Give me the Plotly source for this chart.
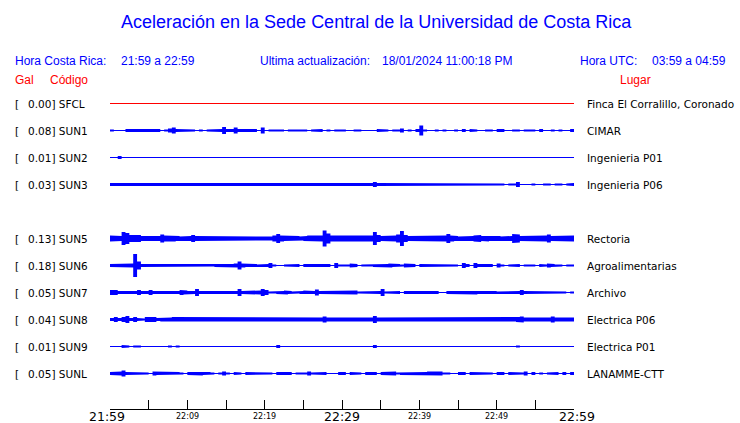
import plotly.graph_objects as go

# ---------------- data ----------------
TITLE = "Aceleración en la Sede Central de la Universidad de Costa Rica"
HORA_CR = "21:59 a 22:59"
HORA_UTC = "03:59 a 04:59"
ACTUALIZACION = "18/01/2024 11:00:18 PM"

codes = ["SFCL", "SUN1", "SUN2", "SUN3", "SUN5", "SUN6", "SUN7", "SUN8", "SUN9", "SUNL"]
places = ["Finca El Corralillo, Coronado", "CIMAR", "Ingenieria P01", "Ingenieria P06",
          "Rectoria", "Agroalimentarias", "Archivo", "Electrica P06", "Electrica P01",
          "LANAMME-CTT"]
gal = [0.00, 0.08, 0.01, 0.03, 0.13, 0.18, 0.05, 0.04, 0.01, 0.05]

# time axis (minutes after 21:59 local)
tick_minutes = [0, 5, 10, 15, 20, 25, 30, 35, 40, 45, 50, 55, 60]
label_minutes = [0, 10, 20, 30, 40, 50, 60]
label_text = ["21:59", "22:09", "22:19", "22:29", "22:39", "22:49", "22:59"]
label_major = [True, False, False, True, False, False, True]

BIN_MIN = 0.5  # each envelope value covers half a minute

# envelope half-heights, 120 bins of 30 s
env_sfcl = [0, 0, 0, 0, 0, 0, 0, 0, 0, 0, 0, 0, 0, 0, 0, 0, 0, 0, 0, 0,
            0, 0, 0, 0, 0, 0, 0, 0, 0, 0, 0, 0, 0, 0, 0, 0, 0, 0, 0, 0,
            0, 0, 0, 0, 0, 0, 0, 0, 0, 0, 0, 0, 0, 0, 0, 0, 0, 0, 0, 0,
            0, 0, 0, 0, 0, 0, 0, 0, 0, 0, 0, 0, 0, 0, 0, 0, 0, 0, 0, 0,
            0, 0, 0, 0, 0, 0, 0, 0, 0, 0, 0, 0, 0, 0, 0, 0, 0, 0, 0, 0,
            0, 0, 0, 0, 0, 0, 0, 0, 0, 0, 0, 0, 0, 0, 0, 0, 0, 0, 0, 0]
env_sun1 = [1, 0, 0, 0, 1.5, 1.5, 1, 1, 1, 1, 1.5, 1, 1.5, 0, 1, 2, 3, 1.5, 1.5, 1,
            1.5, 1, 0, 1, 0, 1, 1, 1, 1.5, 3.5, 1.5, 1.5, 3, 1.5, 1.5, 1.5, 1.5, 1.5, 0, 3,
            0, 1, 1, 1.5, 1, 0, 1, 1, 1, 1, 1, 0, 1, 1.5, 1.5, 0, 1, 0, 1, 1,
            1, 0, 0, 1, 1, 0, 0, 0, 0, 1.5, 1.5, 1, 0, 1, 1, 2, 0, 1, 0, 1.5,
            5, 1, 0, 0, 1, 0, 1, 0, 0, 1, 0, 1.5, 0, 1.5, 1, 0, 0, 1, 1, 0,
            1.5, 1.5, 0, 0, 1, 1, 0, 1, 1.5, 1, 0, 1.5, 0, 0, 1, 0, 1, 0, 0, 1.5]
env_sun2 = [0, 0, 1.5, 0, 0, 0, 0, 0, 0, 0, 0, 0, 0, 0, 0, 0, 0, 0, 0, 0,
            0, 0, 0, 0, 0, 0, 0, 0, 0, 0, 0, 0, 0, 0, 0, 0, 0, 0, 0, 0,
            0, 0, 0, 0, 0, 0, 0, 0, 0, 0, 0, 0, 0, 0, 0, 0, 0, 0, 0, 0,
            0, 0, 0, 0, 0, 0, 0, 0, 0, 0, 0, 0, 0, 0, 0, 0, 0, 0, 0, 0,
            0, 0, 0, 0, 0, 0, 0, 0, 0, 0, 0, 0, 0, 0, 0, 0, 0, 0, 0, 0,
            0, 0, 0, 0, 0, 0, 0, 0, 0, 0, 0, 0, 0, 0, 0, 0, 0, 0, 0, 0]
env_sun3 = [1.5, 1.5, 1.5, 1.5, 1.5, 1.5, 1, 1.5, 1.5, 1.5, 1.5, 1, 1.5, 1.5, 1.5, 1.5, 1.5, 1, 1.5, 1.5,
            1.5, 1.5, 1.5, 1.5, 1.5, 1, 1.5, 1.5, 1, 1.5, 1.5, 1.5, 1.5, 1.5, 1.5, 1.5, 1, 1.5, 1.5, 1.5,
            1.5, 1.5, 1.5, 1.5, 1, 1.5, 1.5, 1.5, 1.5, 1, 1.5, 1.5, 1.5, 1.5, 1.5, 1.5, 1, 1.5, 1.5, 1.5,
            1.5, 1.5, 1.5, 1.5, 1.5, 1.5, 1.5, 1.5, 2.5, 1.5, 1.5, 1.5, 1.5, 1, 1.5, 1.5, 1.5, 1.5, 1.5, 1.5,
            1.5, 1.5, 1.5, 1.5, 1.5, 1.5, 1.5, 1.5, 1, 1.5, 1.5, 1.5, 1, 1, 1, 1, 1.5, 1.5, 1.5, 1.5,
            1, 1, 0, 1, 1, 2.5, 0, 0, 0, 1, 0, 0, 1, 1, 0, 1, 1, 0, 1, 1.5]
env_sun5 = [3, 3, 2.5, 6.5, 5.5, 3.5, 4, 3.5, 2.5, 2.5, 2.5, 2, 2.5, 4, 3, 2.5, 3, 2.5, 2, 2,
            2.5, 3.5, 2.5, 2, 2, 2, 2.5, 2, 2, 2.5, 2.5, 2, 2.5, 2, 2.5, 2, 2.5, 2, 2.5, 2,
            2.5, 2, 3, 4.5, 3, 2.5, 2.5, 2.5, 2.5, 2, 2.5, 3, 2.5, 2.5, 3, 8, 5, 3, 2.5, 2.5,
            2.5, 2.5, 2.5, 3, 2.5, 2.5, 2.5, 3, 6.5, 3.5, 2.5, 2.5, 2.5, 3, 4, 7.5, 3.5, 2.5, 3, 2.5,
            2.5, 3, 2.5, 2.5, 2.5, 2.5, 3, 4.5, 3, 2.5, 2, 2.5, 2.5, 2.5, 3, 3.5, 2.5, 3, 2.5, 2.5,
            2.5, 2, 2.5, 2.5, 4.5, 4, 2.5, 2.5, 2.5, 2.5, 2.5, 2.5, 3, 4, 2.5, 2.5, 2.5, 2.5, 3, 3]
env_sun6 = [1.5, 1.5, 1.5, 1.5, 1.5, 2, 11.5, 4, 1.5, 1.5, 1, 1.5, 1, 1.5, 1.5, 1, 1.5, 1.5, 1.5, 1.5,
            1, 1.5, 1.5, 1, 1.5, 1.5, 1, 1.5, 1.5, 1.5, 1.5, 1.5, 2, 4, 2, 1.5, 1.5, 1.5, 1, 1,
            1.5, 2.5, 1, 0, 0, 1, 1.5, 1.5, 1.5, 0, 1.5, 1.5, 1.5, 1, 1.5, 1.5, 1.5, 0, 2.5, 1,
            1.5, 1, 2, 1.5, 0, 1, 1, 1, 1.5, 1.5, 1.5, 1.5, 2, 1.5, 1.5, 1, 2, 1.5, 1.5, 0,
            1.5, 1, 1, 1, 1, 1.5, 1.5, 1, 1, 1, 0, 2.5, 1.5, 0, 2.5, 1.5, 1.5, 1.5, 1.5, 0,
            2, 1, 0, 1, 1.5, 1.5, 0, 1, 1.5, 1, 0, 1.5, 1, 2, 1.5, 1, 1, 0, 1, 1]
env_sun7 = [2.5, 2.5, 1.5, 1.5, 1.5, 1.5, 1.5, 2.5, 1.5, 1.5, 2.5, 1.5, 1.5, 1.5, 1.5, 2, 1.5, 1.5, 2.5, 2,
            1.5, 1.5, 3.5, 1.5, 1.5, 2, 1.5, 2, 2, 1.5, 2, 1.5, 1.5, 3.5, 1.5, 2, 1.5, 1.5, 2, 3.5,
            2.5, 1, 1, 1.5, 1.5, 2, 1.5, 1, 1, 1.5, 2, 1.5, 1.5, 3, 1.5, 1.5, 1.5, 2, 1.5, 2,
            2, 1.5, 2, 2, 1, 1.5, 1.5, 1.5, 1.5, 1.5, 3.5, 1, 1.5, 1.5, 1.5, 0, 1.5, 1.5, 1.5, 1.5,
            1.5, 1.5, 2, 1.5, 1.5, 0, 0, 1.5, 1.5, 1.5, 1.5, 1.5, 1.5, 1.5, 2, 1.5, 1.5, 1.5, 1.5, 1.5,
            1, 1.5, 1.5, 1, 1.5, 1.5, 2.5, 1.5, 1.5, 1.5, 1.5, 1.5, 1, 1, 1.5, 1.5, 1, 1, 0, 1]
env_sun8 = [1.5, 2.5, 1.5, 2.5, 3.5, 1.5, 2.5, 1.5, 1, 2.5, 2, 2.5, 1.5, 2, 2, 2, 2.5, 2, 2, 2,
            2, 2.5, 2, 2, 2, 2, 2, 2, 2, 2.5, 2, 2, 2.5, 2, 2, 2, 2, 2, 2, 2,
            2, 2.5, 2, 2.5, 2, 2, 2, 2, 2, 2, 2, 2, 2, 2, 2, 3, 2, 2, 2, 2,
            2, 2, 2, 2, 2, 2, 2, 2, 3.5, 2, 2, 2, 2, 2, 2, 2, 2, 2, 2, 2,
            2, 2.5, 2, 2, 2, 2, 2, 2, 2, 2, 2, 2, 2, 2, 2, 2, 2, 2, 2, 2,
            2, 2, 2, 2, 2, 2.5, 3, 2, 2, 2, 2, 2, 2, 2, 3, 2, 2, 2, 2, 2]
env_sun9 = [0, 0, 0, 1.5, 1, 0, 1, 1, 0, 0, 0, 0, 0, 0, 0, 1, 0, 1, 0, 0,
            0, 0, 0, 0, 0, 0, 0, 0, 0, 0, 0, 0, 0, 0, 0, 0, 0, 0, 0, 0,
            0, 0, 0, 1.5, 0, 0, 0, 0, 0, 0, 0, 0, 0, 0, 0, 0, 0, 0, 0, 0,
            0, 0, 0, 0, 0, 0, 0, 0, 1.5, 0, 0, 0, 0, 0, 0, 0, 0, 0, 0, 0,
            0, 0, 0, 0, 0, 0, 0, 0, 0, 0, 0, 0, 0, 0, 0, 0, 0, 0, 0, 0,
            0, 0, 0, 0, 0, 1, 0, 0, 0, 0, 0, 0, 0, 0, 0, 0, 0, 0, 0, 0]
env_sunl = [1.5, 1.5, 2, 3, 1.5, 1, 1.5, 1.5, 1.5, 1, 0, 2, 1.5, 1.5, 1.5, 1.5, 1.5, 1.5, 1, 0,
            1.5, 2, 1.5, 2, 1.5, 1.5, 1, 0, 1, 2, 1, 0, 1.5, 1, 0, 1.5, 1.5, 1, 1.5, 1,
            1.5, 1, 0, 1.5, 1.5, 1.5, 1.5, 0, 1, 1.5, 1, 2, 1, 1.5, 1.5, 1.5, 0, 0, 0, 1.5,
            1.5, 0, 1.5, 1.5, 1, 0, 1.5, 1.5, 1.5, 0, 1.5, 1.5, 2, 2, 1, 1.5, 1.5, 1.5, 1.5, 1.5,
            1.5, 1.5, 2, 1.5, 1.5, 2, 1, 1, 0, 0, 1.5, 1.5, 0, 1.5, 1.5, 1.5, 1.5, 1.5, 1, 0,
            1.5, 1.5, 0, 1.5, 1.5, 1, 1, 2, 0, 1.5, 0, 1, 0, 1, 1.5, 1.5, 0, 1.5, 0, 1.5]

envelopes = [env_sfcl, env_sun1, env_sun2, env_sun3, env_sun5,
             env_sun6, env_sun7, env_sun8, env_sun9, env_sunl]

# ---------------- layout / style ----------------
W, H = 740, 423
PL, PR, PT, PB = 110, 574, 90, 409          # plot area in pixels
ROW_STEP = 27
ROW0 = 13.5                                   # first row sits 13.5 px below plot top
slots = [0, 1, 2, 3, 5, 6, 7, 8, 9, 10]       # slot 4 (SUN4) is empty
BLUE = "#0000ff"
RED = "#ff0000"
line_colors = [RED] + [BLUE] * 9
SANS = "DejaVu Sans"
ARIAL = "Liberation Sans"
TXT_SHIFT = -2                                # compensate annotation inner padding


def px(x):
    return (x - PL) / (PR - PL)


def py(y):
    return (PB - y) / (PB - PT)


fig = go.Figure()
t_end = len(envelopes[0]) * BIN_MIN

for env, slot, col in zip(envelopes, slots, line_colors):
    c = -ROW_STEP * slot
    fig.add_trace(go.Scatter(x=[0, t_end], y=[c, c], mode="lines",
                             line=dict(color=col, width=1), hoverinfo="skip"))
    xs, ys = [], []
    for i, a in enumerate(env):
        xs += [i * BIN_MIN, (i + 1) * BIN_MIN]
        ys += [c + a, c + a]
    for i in range(len(env) - 1, -1, -1):
        a = env[i]
        xs += [(i + 1) * BIN_MIN, i * BIN_MIN]
        ys += [c - a, c - a]
    if any(v > 0 for v in env):
        fig.add_trace(go.Scatter(x=xs, y=ys, mode="lines", fill="toself",
                                 fillcolor=col, line=dict(color=col, width=0),
                                 hoverinfo="skip"))

ann = []
# station labels
for code, place, g, slot in zip(codes, places, gal, slots):
    yc = -ROW_STEP * slot
    for xpos, txt in ((15, "["), (27.5, f"{g:.2f}] {code}"), (587, place)):
        ann.append(dict(x=px(xpos), y=yc, xref="paper", yref="y", text=txt,
                        xanchor="left", yanchor="middle", showarrow=False,
                        xshift=TXT_SHIFT,
                        font=dict(family=SANS, size=10.5, color="black")))

# time labels
for m, txt, major in zip(label_minutes, label_text, label_major):
    shift = 0
    if m == label_minutes[0]:
        shift = -3
    elif m == label_minutes[-1]:
        shift = 3
    ann.append(dict(x=m, y=py(417), xref="x", yref="paper", text=txt,
                    xanchor="center", yanchor="middle", showarrow=False, xshift=shift,
                    font=dict(family=SANS, size=12.5 if major else 8, color="black")))

# header
hdr = [
    (376, 22, TITLE, "center", 18, BLUE),
    (15, 61, "Hora Costa Rica:", "left", 12, BLUE),
    (121, 61, HORA_CR, "left", 12, BLUE),
    (260, 61, "Ultima actualización:", "left", 12, BLUE),
    (382, 61, ACTUALIZACION, "left", 12, BLUE),
    (580, 61, "Hora UTC:", "left", 12, BLUE),
    (652, 61, HORA_UTC, "left", 12, BLUE),
    (15, 80, "Gal", "left", 12, RED),
    (50, 80, "Código", "left", 12, RED),
    (620, 80, "Lugar", "left", 12, RED),
]
for x, y, txt, anc, sz, col in hdr:
    ann.append(dict(x=px(x), y=py(y), xref="paper", yref="paper", text=txt,
                    xanchor=anc, yanchor="middle", showarrow=False,
                    xshift=TXT_SHIFT if anc == "left" else 0,
                    font=dict(family=ARIAL, size=sz, color=col)))

fig.update_layout(
    width=W, height=H,
    margin=dict(l=PL, r=W - PR, t=PT, b=H - PB, pad=0),
    paper_bgcolor="white", plot_bgcolor="white",
    showlegend=False,
    annotations=ann,
    xaxis=dict(range=[0, t_end], tickmode="array", tickvals=tick_minutes,
               showticklabels=False, ticks="inside", ticklen=9, tickwidth=1,
               tickcolor="black", showline=True, linecolor="black", linewidth=1,
               showgrid=False, zeroline=False, automargin=False, fixedrange=True),
    yaxis=dict(range=[ROW0 - (PB - PT), ROW0], visible=False, showgrid=False,
               zeroline=False, automargin=False, fixedrange=True),
)

fig.write_html(
    "out.html",
    config={"displayModeBar": False},
    post_script="document.body.style.margin='0';document.body.style.overflow='hidden';",
)
